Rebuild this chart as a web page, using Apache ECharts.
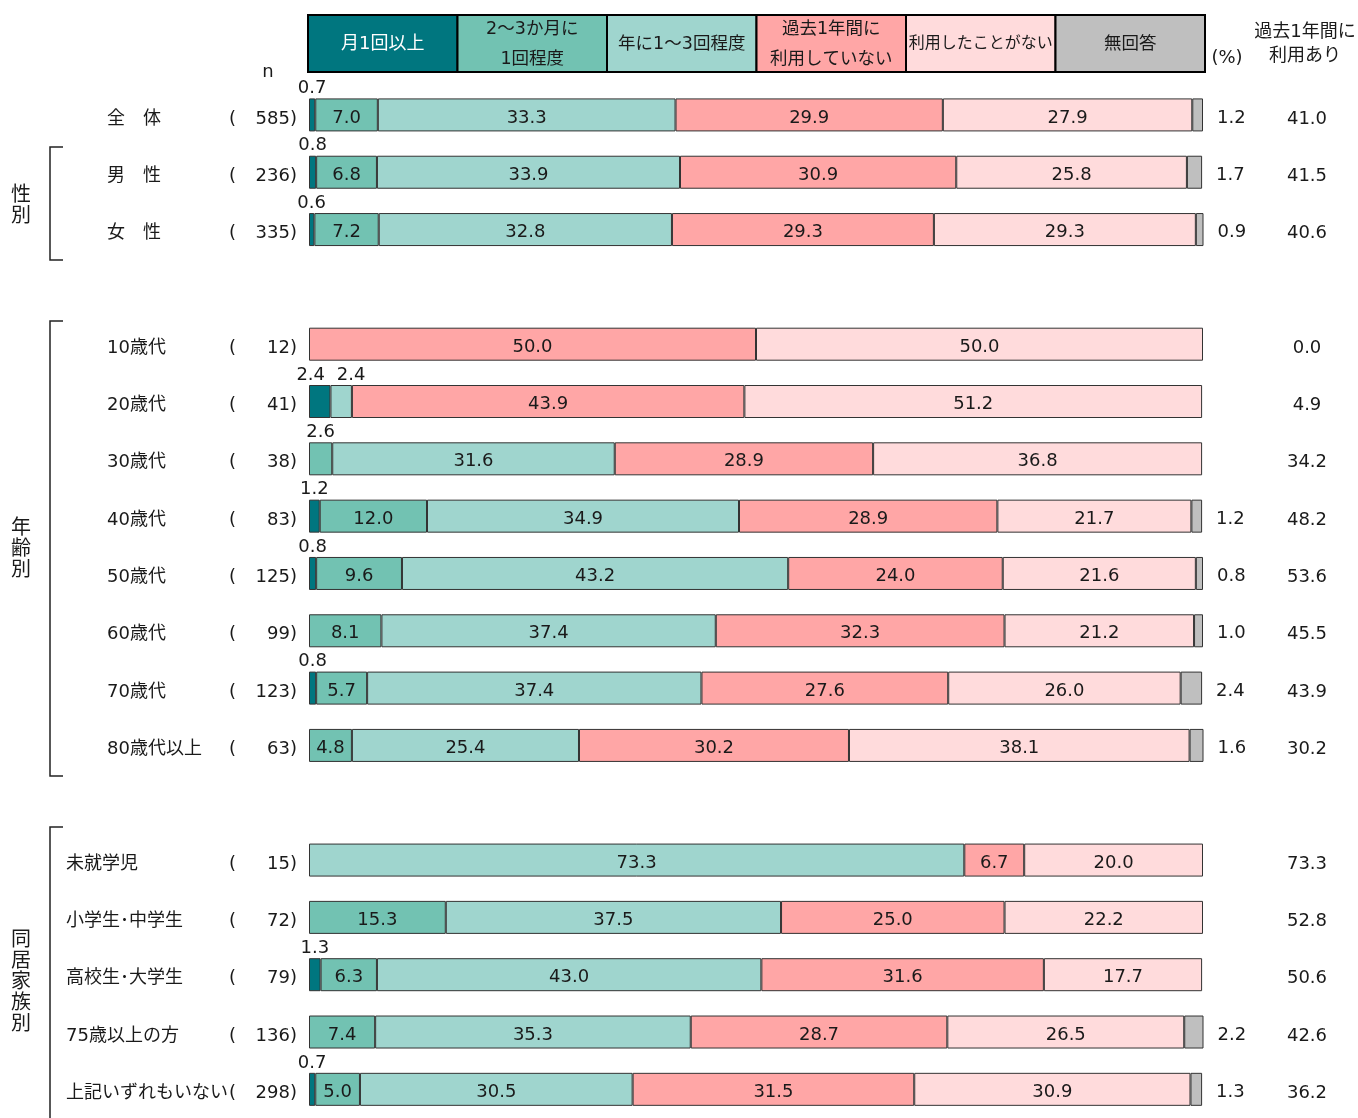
<!DOCTYPE html>
<html><head><meta charset="utf-8">
<script src="https://cdn.jsdelivr.net/npm/echarts@6/dist/echarts.min.js"></script>
<style>html,body{margin:0;padding:0;background:#fff}#c{width:1358px;height:1118px}</style>
</head><body><div id="c"></div>
<script>
// ---- data ----
const categories = ['全　体','男　性','女　性','','10歳代','20歳代','30歳代','40歳代','50歳代','60歳代','70歳代','80歳代以上','','未就学児','小学生･中学生','高校生･大学生','75歳以上の方','上記いずれもいない'];
const nValues = [585,236,335,null,12,41,38,83,125,99,123,63,null,15,72,79,136,298];
const seriesNames = ['月1回以上','2～3か月に1回程度','年に1～3回程度','過去1年間に利用していない','利用したことがない','無回答'];
const legendTexts = ['月1回以上','2～3か月に\n1回程度','年に1～3回程度','過去1年間に\n利用していない','利用したことがない','無回答'];
const monthly     = [0.7,0.8,0.6,null,0,2.4,0,1.2,0.8,0,0.8,0,null,0,0,1.3,0,0.7];
const bimonthly   = [7.0,6.8,7.2,null,0,0,2.6,12.0,9.6,8.1,5.7,4.8,null,0,15.3,6.3,7.4,5.0];
const yearly      = [33.3,33.9,32.8,null,0,2.4,31.6,34.9,43.2,37.4,37.4,25.4,null,73.3,37.5,43.0,35.3,30.5];
const notPastYear = [29.9,30.9,29.3,null,50.0,43.9,28.9,28.9,24.0,32.3,27.6,30.2,null,6.7,25.0,31.6,28.7,31.5];
const never       = [27.9,25.8,29.3,null,50.0,51.2,36.8,21.7,21.6,21.2,26.0,38.1,null,20.0,22.2,17.7,26.5,30.9];
const noAnswer    = [1.2,1.7,0.9,null,0,0,0,1.2,0.8,1.0,2.4,1.6,null,0,0,0,2.2,1.3];
const usedPastYear= [41.0,41.5,40.6,null,0.0,4.9,34.2,48.2,53.6,45.5,43.9,30.2,null,73.3,52.8,50.6,42.6,36.2];
const groupNames = ['性\n別','年\n齢\n別','同\n居\n家\n族\n別'];

// ---- style ----
const colors = ['#00767F','#72C2B2','#9FD5CE','#FFA6A6','#FFDBDC','#BFBFBF'];
const FONT = "'DejaVu Sans','Noto Sans CJK JP',sans-serif";
const TXT = '#1a1a1a';
const allSeries = [monthly,bimonthly,yearly,notPastYear,never,noAnswer];

const chart = echarts.init(document.getElementById('c'));
const gridLeft = 309, gridW = 894, gridTop = 86.25, gridH = 1035;

function buildData(arr, si){
  return arr.map((v,i)=>{
    if(v==null || v===0) return {value:null};
    const item = {value:v};
    if(si===5){
      item.label = {position:'right', distance:14, offset:[0,3]};
    } else if(v<3){
      const off = (i===5) ? (si===0 ? [-9,0] : [10,0]) : [0,0];
      item.label = {position:'top', distance:1, offset:off};
    }
    return item;
  });
}

const series = allSeries.map((arr,si)=>({
  name: seriesNames[si], type:'bar', stack:'t', barWidth:33,
  itemStyle:{color:colors[si], borderColor:'#333', borderWidth:1},
  label:{show:true, position:'inside', offset:[0,3], color:TXT, fontSize:18, fontFamily:FONT,
    formatter:p=> p.value==null ? '' : Number(p.value).toFixed(1)},
  emphasis:{disabled:true},
  data: buildData(arr, si)
}));

const graphic = [];
const bw = 897/6;
legendTexts.forEach((t,i)=>{
  graphic.push({type:'rect', shape:{x:308+i*bw, y:15, width:bw, height:57},
    style:{fill:colors[i], stroke:'#000', lineWidth:2}});
  graphic.push({type:'text', x:308+i*bw+bw/2, y:44,
    style:{text:t, align:'center', verticalAlign:'middle', fontSize: i===4 ? 16 : (i===0 ? 18 : 17.5), lineHeight:30,
      fontFamily:FONT, fill: i===0 ? '#fff' : TXT}});
});
graphic.push({type:'text', x:268, y:72, style:{text:'n', align:'center', verticalAlign:'middle', fontSize:18, fontFamily:FONT, fill:TXT}});
graphic.push({type:'text', x:1227, y:58, style:{text:'(%)', align:'center', verticalAlign:'middle', fontSize:18, fontFamily:FONT, fill:TXT}});
graphic.push({type:'text', x:1305, y:44, style:{text:'過去1年間に\n利用あり', align:'center', verticalAlign:'middle', fontSize:18, lineHeight:24, fontFamily:FONT, fill:TXT}});
// brackets
const brackets = [[147,260],[321,776],[827,1125]];
brackets.forEach((b,i)=>{
  const pts = i<2 ? [[63,b[0]],[50,b[0]],[50,b[1]],[63,b[1]]] : [[63,b[0]],[50,b[0]],[50,b[1]]];
  graphic.push({type:'polyline', shape:{points:pts}, style:{stroke:'#222', lineWidth:1.5, fill:null}});
});
const gy = [206, 550, 983];
groupNames.forEach((g,i)=>{
  graphic.push({type:'text', x:21, y:gy[i], style:{text:g, align:'center', verticalAlign:'middle', fontSize:20, lineHeight:21, fontFamily:FONT, fill:TXT}});
});

function labelAxis(position, margin, align, fmt){
  return {
    type:'category', data:categories, inverse:true, position:position,
    axisLine:{show:false}, axisTick:{show:false}, splitLine:{show:false},
    axisLabel:{margin:margin, align:align, color:TXT, fontSize:18, fontFamily:FONT,
      formatter:(v,i)=>{ const s = fmt(v,i); return s ? '{s|'+s+'}' : ''; },
      rich:{s:{color:TXT, fontSize:18, fontFamily:FONT, padding:[8,0,0,0]}}}
  };
}

chart.setOption({
  animation:false,
  grid:{left:gridLeft, top:gridTop, width:gridW, height:gridH},
  xAxis:{type:'value', min:0, max:100, show:false},
  yAxis:[
    labelAxis('left', 12, 'right', (v,i)=> nValues[i]==null ? '' : nValues[i]+')'),
    labelAxis('left', 309-229, 'left', (v,i)=> nValues[i]==null ? '' : '('),
    labelAxis('left', 309-107, 'left', (v,i)=> i<12 ? v : ''),
    labelAxis('left', 309-66, 'left', (v,i)=> i>=12 ? v : ''),
    labelAxis('right', 104, 'center', (v,i)=> usedPastYear[i]==null ? '' : usedPastYear[i].toFixed(1))
  ],
  series: series,
  graphic: graphic
});
</script></body></html>
